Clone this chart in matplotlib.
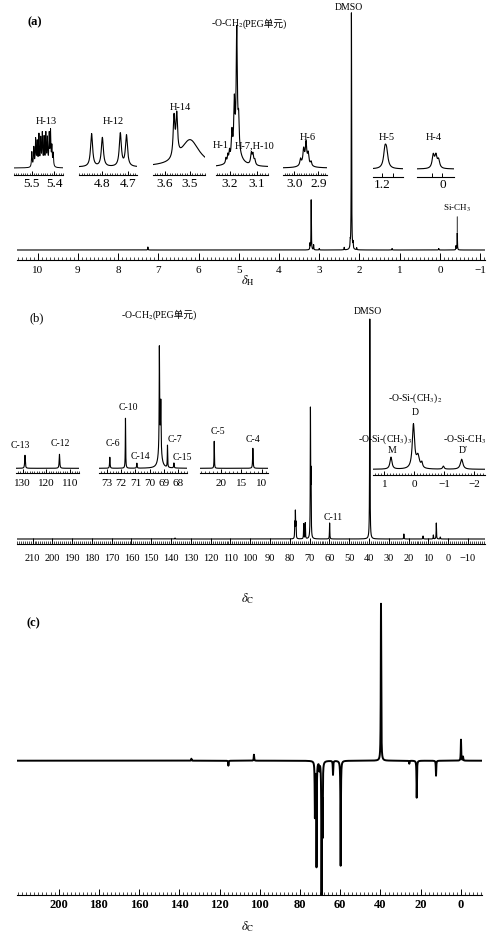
import numpy as np
import matplotlib
matplotlib.use("Agg")
import matplotlib.pyplot as plt
from matplotlib.ticker import MultipleLocator

plt.rcParams['font.family'] = ['Liberation Serif', 'Noto Sans CJK SC']
plt.rcParams['mathtext.fontset'] = 'stix'

W, H = 496, 940

# %% data, (a) 1H NMR, main trace
a_ppm = [7.26, 3.23, 3.20, 3.14, 3.00, 2.38, 2.23, 2.20, 2.16, 2.07, 1.19, 0.03, -0.40, -0.43]
a_int = [3, 6, 50, 5, 1.5, 2.5, 6, 237, 6, 2, 1.5, 1.5, 4, 17]
a_ticks = list(range(10, -2, -1))

# (a) expanded regions
h13_ppm = [5.500, 5.491, 5.483, 5.476, 5.468, 5.460, 5.453, 5.445, 5.437, 5.430, 5.422, 5.416, 5.410, 5.404]
h13_int = [15, 19, 27, 24, 31, 27, 32, 28, 32, 27, 31, 34, 19, 13]
h12_ppm = [4.841, 4.799, 4.729, 4.705]
h12_int = [33, 29, 33, 31]
h14_ppm = [3.564, 3.553, 3.500]
h14_int = [40, 40, 27]
peg_h_ppm = [3.215, 3.208, 3.202, 3.193, 3.184, 3.175, 3.168, 3.175, 3.121, 3.115, 3.108]
peg_h_int = [5, 7, 9, 25, 50, 120, 30, 14, 11, 10, 5]
h6_ppm = [2.974, 2.961, 2.951, 2.942, 2.930, 2.955]
h6_int = [6, 12, 18, 10, 4, 8]
h5_ppm = [1.172, 1.158]
h5_int = [17, 14]
h4_ppm = [0.085, 0.060, 0.035]
h4_int = [13, 12, 8]

# %% data, (b) 13C NMR
b_ppm = [138.0, 77.5, 77.2, 76.9, 73.0, 72.2, 69.6, 69.3, 59.9, 39.6, 22.4, 12.7, 7.5, 6.0, 4.0]
b_int = [1, 15, 26, 15, 15, 16, 126, 60, 16, 220, 5, 3, 4, 16, 2]
b_ticks = list(range(210, -20, -10))

c1_ppm = [129.0, 114.4]
c1_int = [13, 14]
c2_ppm = [72.8, 71.7, 70.9, 69.32, 69.22, 69.28, 68.75, 68.3]
c2_int = [11, 50, 5, 95, 45, 30, 22, 5]
c3_ppm = [21.7, 12.2]
c3_int = [27, 20]
si_ppm = [0.78, 0.03, -0.12, -0.25, -0.97, -1.58]
si_int = [12, 44, 12, 5, 3, 10]

# %% data, (c) DEPT
d_ppm = [134.0, 115.6, 102.9, 72.6, 71.8, 70.4, 69.3, 68.8, 63.6, 59.8, 39.75, 25.7, 22.0, 12.4, 0.0, -1.0]
d_int = [2, -5, 6, -55, -105, -8, -131, -70, -14, -105, 157, -3, -37, -15, 21, 4]
d_ticks = list(range(200, -10, -20))


def spectrum(x, ppm, inten, width):
    width = np.broadcast_to(width, (len(ppm),))
    y = np.zeros_like(x)
    for p, h, w in zip(ppm, inten, width):
        y += h * w**2 / ((x - p)**2 + w**2)
    return y


def rect(xl, xr, ytop, ybot):
    return [xl / W, 1 - ybot / H, (xr - xl) / W, (ybot - ytop) / H]


def lab(v):
    return f"{v:g}".replace('-', '\u2212')


def panel(xl, xr, ytop, yspine, ybase, lim, ppm, inten, width,
          ticks, labels, minor, size, pad, majlen=4, minlen=2, lw=0.8,
          bold=False, npts=6000):
    ax = fig.add_axes(rect(xl, xr, ytop, yspine))
    x = np.linspace(lim[0], lim[1], npts)
    ax.plot(x, spectrum(x, ppm, inten, width), color='k', lw=lw)
    ax.set_xlim(lim)
    ax.set_ylim(-(yspine - ybase), ybase - ytop)
    for s in ['top', 'left', 'right']:
        ax.spines[s].set_visible(False)
    ax.spines['bottom'].set_linewidth(0.8)
    ax.set_yticks([])
    ax.set_xticks(ticks, labels=labels)
    if minor:
        ax.xaxis.set_minor_locator(MultipleLocator(minor))
    ax.tick_params(axis='x', which='major', direction='in', length=majlen,
                   width=0.7, pad=pad, labelsize=size)
    ax.tick_params(axis='x', which='minor', direction='in', length=minlen, width=0.5)
    if bold:
        for t in ax.get_xticklabels():
            t.set_fontweight('bold')
    ax.patch.set_visible(False)
    return ax


def ftext(x, y, s, size=7, **kw):
    return fig.text(x / W, 1 - y / H, s, ha='center', va='center', fontsize=size, **kw)


def peg_label(xc, y, size):
    r = fig.canvas.get_renderer()
    t1 = fig.text(0, 0, '-O-CH$_2$', fontsize=size, va='baseline', ha='left')
    t2 = fig.text(0, 0, '(PEG单元)', fontsize=size, va='baseline', ha='left')
    w1 = t1.get_window_extent(r).width
    w2 = t2.get_window_extent(r).width
    x0 = xc - (w1 + w2) / 2
    t1.set_position((x0 / W, 1 - y / H))
    t2.set_position(((x0 + w1) / W, 1 - y / H))


fig = plt.figure(figsize=(W / 100, H / 100), dpi=100)

# %% (a)
ax_a = panel(16.7, 485, 8, 260, 250, (10.52, -1.12), a_ppm, a_int, 0.005,
             a_ticks, [lab(v) for v in a_ticks], 0.1, 8, 4, majlen=5, minlen=2.5,
             npts=40000)
ax_a.annotate('Si-CH$_3$', xy=(-0.43, 18), xytext=(0, 13), textcoords='offset points',
              ha='center', va='bottom', fontsize=6.5,
              arrowprops=dict(arrowstyle='-', lw=0.6, color='k', shrinkA=0, shrinkB=0))

panel(14, 63, 20, 175, 168, (5.58, 5.36), h13_ppm, h13_int, 0.0018,
      [5.5, 5.4], ['5.5', '5.4'], 0.01, 9.5, 2, majlen=3, minlen=1.8, lw=0.7)
panel(79, 137, 20, 175, 167, (4.89, 4.664), h12_ppm, h12_int, 0.0048,
      [4.8, 4.7], ['4.8', '4.7'], 0.01, 9.5, 2, majlen=3, minlen=1.8)
panel(153, 205, 20, 175, 167, (3.648, 3.44), h14_ppm, h14_int, [0.004, 0.004, 0.045],
      [3.6, 3.5], ['3.6', '3.5'], 0.01, 9.5, 2, majlen=3, minlen=1.8)
panel(216, 268, 20, 175, 167, (3.252, 3.059), peg_h_ppm, peg_h_int,
      [0.002, 0.002, 0.002, 0.0025, 0.0025, 0.0025, 0.0025, 0.02, 0.003, 0.003, 0.003],
      [3.2, 3.1], ['3.2', '3.1'], 0.01, 9.5, 2, majlen=3, minlen=1.8)
panel(282.7, 326.7, 20, 175, 168, (3.048, 2.865), h6_ppm, h6_int,
      [0.003, 0.003, 0.003, 0.003, 0.003, 0.015],
      [3.0, 2.9], ['3.0', '2.9'], 0.01, 9.5, 2, majlen=3, minlen=1.8)
panel(372.7, 402.7, 20, 176.5, 169, (1.277, 1.02), h5_ppm, h5_int, 0.014,
      [1.2, 1.1], ['1.2', ''], None, 9.5, 2, majlen=3)
panel(417.3, 454.3, 20, 176.5, 169, (0.234, -0.112), h4_ppm, h4_int, 0.012,
      [0.1, 0.0], ['', '0'], None, 9.5, 2, majlen=3)

ftext(35, 22, '(a)', 9, fontweight='bold')
ftext(349, 7, 'DMSO', 7)
peg_label(249, 27, 7)
ftext(46, 122, 'H-13', 7.5)
ftext(113, 122, 'H-12', 7.5)
ftext(180, 107, 'H-14', 7.5)
ftext(221, 146, 'H-1', 7.5)
ftext(255, 146, 'H-7,H-10', 7.5)
ftext(308, 137, 'H-6', 7.5)
ftext(387, 137, 'H-5', 7.5)
ftext(434, 138, 'H-4', 7.5)
ftext(248, 281, r'$\delta_{\mathrm{H}}$', 9)

# %% (b)
panel(16.7, 485, 300, 544, 539, (218, -18.6), b_ppm, b_int, 0.1,
      b_ticks, [lab(v) for v in b_ticks], 1, 7.5, 7, majlen=4, minlen=2, npts=40000)

panel(16, 79.3, 300, 473, 468.3, (132.8, 106), c1_ppm, c1_int, 0.15,
      [130, 120, 110], ['130', '120', '110'], 1, 8, 4, majlen=3, minlen=1.8)
panel(99, 186.7, 300, 473, 468.3, (73.56, 67.4), c2_ppm, c2_int,
      [0.02, 0.015, 0.02, 0.015, 0.02, 0.1, 0.015, 0.02],
      [73, 72, 71, 70, 69, 68], ['73', '72', '71', '70', '69', '68'], 0.2, 8, 4,
      majlen=3, minlen=1.8)
panel(200, 268.3, 300, 473, 468.3, (25.2, 8.4), c3_ppm, c3_int, [0.05, 0.07],
      [20, 15, 10], ['20', '15', '10'], 1, 8, 4, majlen=3, minlen=1.8)
panel(373.3, 485, 300, 474.5, 469.3, (1.37, -2.36), si_ppm, si_int,
      [0.04, 0.045, 0.06, 0.03, 0.03, 0.05],
      [1, 0, -1, -2], [lab(v) for v in [1, 0, -1, -2]], 0.1, 8, 4, majlen=3, minlen=1.8)

ftext(37, 318, '(b)', 9)
ftext(368, 311, 'DMSO', 7)
peg_label(159, 318, 7)
ftext(20, 446, 'C-13', 7)
ftext(60, 444, 'C-12', 7)
ftext(113, 444, 'C-6', 7)
ftext(128, 408, 'C-10', 7)
ftext(140, 456, 'C-14', 7)
ftext(175, 439, 'C-7', 7)
ftext(182, 457, 'C-15', 7)
ftext(218, 432, 'C-5', 7)
ftext(253, 439, 'C-4', 7)
ftext(333, 517, 'C-11', 7)
ftext(415, 398, '-O-Si-(CH$_3$)$_2$', 7)
ftext(415, 412, 'D', 7)
ftext(385, 439, '-O-Si-(CH$_3$)$_3$', 7)
ftext(392, 450, 'M', 7)
ftext(465, 440, '-O-Si-CH$_3$', 7)
ftext(463, 450, 'D\u2032', 7)
ftext(248, 599, r'$\delta_{\mathrm{C}}$', 9)

# %% (c)
panel(17.3, 481.7, 598, 895, 760.7, (220.5, -10.3), d_ppm, d_int, 0.12,
      d_ticks, [lab(v) for v in d_ticks], 2, 9, 3, majlen=4, minlen=2.5,
      lw=1.4, bold=True, npts=40000)
ftext(33, 623, '(c)', 9, fontweight='bold')
ftext(248, 927, r'$\delta_{\mathrm{C}}$', 9)

fig.savefig('out.png', dpi=100)
